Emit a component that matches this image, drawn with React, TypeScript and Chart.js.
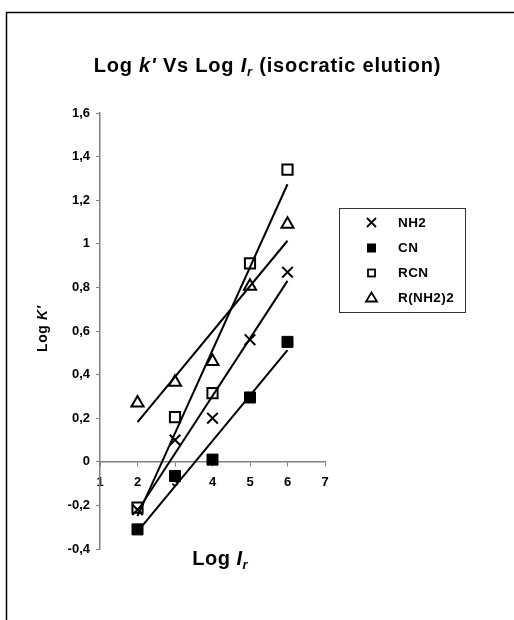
import React, { useEffect, useRef } from "react";
import { Chart, registerables } from "chart.js";

Chart.register(...registerables);

const xValues = [2, 3, 4, 5, 6];
const seriesNames = ["NH2", "CN", "RCN", "R(NH2)2"];
const nh2Values = [-0.22, 0.1, 0.2, 0.56, 0.87];
const cnValues = [-0.31, -0.065, 0.01, 0.295, 0.55];
const rcnValues = [-0.21, 0.205, 0.315, 0.91, 1.34];
const rnh22Values = [0.27, 0.365, 0.46, 0.805, 1.09];
const xAxisMin = 1;
const xAxisMax = 7;
const yAxisMin = -0.4;
const yAxisMax = 1.6;

const FONT = '"Liberation Sans", Arial, Helvetica, sans-serif';

type Pt = { x: number; y: number };

function toPoints(ys: number[]): Pt[] {
  return xValues.map((x, i) => ({ x, y: ys[i] }));
}

// least-squares linear trendline (as in the original spreadsheet chart)
function trend(ys: number[]): Pt[] {
  const n = xValues.length;
  const mx = xValues.reduce((a, b) => a + b, 0) / n;
  const my = ys.reduce((a, b) => a + b, 0) / n;
  let sxy = 0;
  let sxx = 0;
  for (let i = 0; i < n; i++) {
    sxy += (xValues[i] - mx) * (ys[i] - my);
    sxx += (xValues[i] - mx) * (xValues[i] - mx);
  }
  const b = sxy / sxx;
  const a = my - b * mx;
  const x0 = xValues[0];
  const x1 = xValues[n - 1];
  return [
    { x: x0, y: a + b * x0 },
    { x: x1, y: a + b * x1 },
  ];
}

type Run = { t: string; italic?: boolean; sub?: boolean };

function drawRuns(
  ctx: CanvasRenderingContext2D,
  runs: Run[],
  size: number,
  subSize: number,
  subShift: number,
  spacing: number,
  cx: number,
  baseline: number
) {
  const fontFor = (r: Run) =>
    `${r.italic ? "italic " : ""}bold ${r.sub ? subSize : size}px ${FONT}`;
  let total = 0;
  for (const r of runs) {
    ctx.font = fontFor(r);
    for (const ch of r.t) total += ctx.measureText(ch).width + spacing;
  }
  total -= spacing;
  let x = cx - total / 2;
  ctx.textAlign = "left";
  ctx.textBaseline = "alphabetic";
  ctx.fillStyle = "#000";
  for (const r of runs) {
    ctx.font = fontFor(r);
    for (const ch of r.t) {
      ctx.fillText(ch, x, baseline + (r.sub ? subShift : 0));
      x += ctx.measureText(ch).width + spacing;
    }
  }
}

function drawText(
  ctx: CanvasRenderingContext2D,
  text: string,
  size: number,
  spacing: number,
  x: number,
  y: number
) {
  ctx.font = `bold ${size}px ${FONT}`;
  ctx.fillStyle = "#000";
  ctx.textAlign = "left";
  ctx.textBaseline = "middle";
  for (const ch of text) {
    ctx.fillText(ch, x, y);
    x += ctx.measureText(ch).width + spacing;
  }
}

function drawMarker(ctx: CanvasRenderingContext2D, kind: number, x: number, y: number) {
  ctx.save();
  ctx.strokeStyle = "#000";
  ctx.fillStyle = "#000";
  ctx.lineWidth = 1.8;
  if (kind === 0) {
    const h = 4.5;
    ctx.beginPath();
    ctx.moveTo(x - h, y - h);
    ctx.lineTo(x + h, y + h);
    ctx.moveTo(x + h, y - h);
    ctx.lineTo(x - h, y + h);
    ctx.stroke();
  } else if (kind === 1) {
    ctx.fillRect(x - 4.5, y - 4.5, 9, 9);
  } else if (kind === 2) {
    ctx.fillStyle = "#fff";
    ctx.fillRect(x - 3.5, y - 3.5, 7, 7);
    ctx.strokeRect(x - 3.5, y - 3.5, 7, 7);
  } else {
    ctx.beginPath();
    ctx.moveTo(x, y - 5);
    ctx.lineTo(x + 5.5, y + 4);
    ctx.lineTo(x - 5.5, y + 4);
    ctx.closePath();
    ctx.fillStyle = "#fff";
    ctx.fill();
    ctx.stroke();
  }
  ctx.restore();
}

const decorPlugin = {
  id: "decor",
  beforeDraw(chart: any) {
    const ctx: CanvasRenderingContext2D = chart.ctx;
    ctx.save();
    ctx.fillStyle = "#fff";
    ctx.fillRect(0, 0, chart.width, chart.height);
    ctx.strokeStyle = "#000";
    ctx.lineWidth = 1.5;
    ctx.beginPath();
    ctx.moveTo(6.5, chart.height + 2);
    ctx.lineTo(6.5, 12.5);
    ctx.lineTo(chart.width + 2, 12.5);
    ctx.stroke();
    ctx.restore();
  },
  afterDraw(chart: any) {
    const ctx: CanvasRenderingContext2D = chart.ctx;
    ctx.save();
    // main title
    drawRuns(
      ctx,
      [
        { t: "Log " },
        { t: "k'", italic: true },
        { t: " Vs Log " },
        { t: "I", italic: true },
        { t: "r", italic: true, sub: true },
        { t: " (isocratic elution)" },
      ],
      20,
      13,
      4,
      0.8,
      267,
      72
    );
    // x axis title
    drawRuns(
      ctx,
      [{ t: "Log " }, { t: "I", italic: true }, { t: "r", italic: true, sub: true }],
      20,
      13,
      4,
      0.5,
      220,
      565
    );
    // y axis title
    ctx.save();
    ctx.translate(47, 329);
    ctx.rotate(-Math.PI / 2);
    drawRuns(ctx, [{ t: "Log " }, { t: "K'", italic: true }], 14, 14, 0, 0.6, 0, 0);
    ctx.restore();

    // legend
    ctx.strokeStyle = "#333";
    ctx.lineWidth = 1;
    ctx.strokeRect(339.5, 208.5, 126, 104);
    const rows = [222.5, 248, 273, 297.5];
    const names = chart.data.datasets.filter((d: any) => d.isSeries).map((d: any) => d.label);
    names.forEach((name: string, i: number) => {
      drawMarker(ctx, i, 371.5, rows[i]);
      drawText(ctx, name, 13.5, 0.4, 398, rows[i] + 0.5);
    });
    ctx.restore();
  },
};

export default function App() {
  const ref = useRef<HTMLCanvasElement | null>(null);

  useEffect(() => {
    if (!ref.current) return;
    const allSeries = [nh2Values, cnValues, rcnValues, rnh22Values];
    const styles = [
      { pointStyle: "crossRot", radius: 7.5, bg: "#000", bw: 2 },
      { pointStyle: "rect", radius: 7.8, bg: "#000", bw: 1 },
      { pointStyle: "rect", radius: 7.2, bg: "#fff", bw: 2 },
      { pointStyle: "triangle", radius: 7, bg: "#fff", bw: 2 },
    ];
    const trendSets = allSeries.map((ys, i) => ({
      type: "line" as const,
      label: seriesNames[i] + " trend",
      data: trend(ys),
      borderColor: "#000",
      borderWidth: 2,
      pointRadius: 0,
      showLine: true,
      fill: false,
      isSeries: false,
    }));
    const pointSets = allSeries.map((ys, i) => ({
      type: "scatter" as const,
      label: seriesNames[i],
      data: toPoints(ys),
      pointStyle: styles[i].pointStyle,
      pointRadius: styles[i].radius,
      pointHoverRadius: styles[i].radius,
      pointBackgroundColor: styles[i].bg,
      pointBorderColor: "#000",
      pointBorderWidth: styles[i].bw,
      showLine: false,
      isSeries: true,
    }));

    const chart = new Chart(ref.current, {
      type: "scatter",
      data: { datasets: [...trendSets, ...pointSets] as any },
      options: {
        responsive: false,
        animation: false,
        events: [],
        layout: { padding: { left: 60, top: 113, right: 189, bottom: 71 } },
        plugins: {
          legend: { display: false },
          title: { display: false },
          tooltip: { enabled: false },
        },
        scales: {
          x: {
            type: "linear",
            min: xAxisMin,
            max: xAxisMax,
            position: { y: 0 } as any,
            ticks: {
              stepSize: 1,
              color: "#000",
              font: { family: FONT, size: 13, weight: "bold" },
              padding: 9,
              maxRotation: 0,
            },
            grid: {
              display: true,
              drawOnChartArea: false,
              drawTicks: true,
              tickLength: 4,
              color: "#808080",
            },
            border: { display: true, color: "#808080", width: 1.5 },
          },
          y: {
            type: "linear",
            min: yAxisMin,
            max: yAxisMax,
            ticks: {
              stepSize: 0.2,
              color: "#000",
              font: { family: FONT, size: 13, weight: "bold" },
              padding: 6,
              callback: (v: any) => String(Number(Number(v).toFixed(1))).replace(".", ","),
            },
            grid: {
              display: true,
              drawOnChartArea: false,
              drawTicks: true,
              tickLength: 4,
              color: "#808080",
            },
            border: { display: true, color: "#808080", width: 1.5 },
            afterFit: (s: any) => {
              s.width = 40;
            },
          },
        },
      } as any,
      plugins: [decorPlugin],
    });
    return () => chart.destroy();
  }, []);

  return (
    <div style={{ position: "fixed", left: 0, top: 0, width: 514, height: 620, overflow: "hidden" }}>
      <canvas ref={ref} width={514} height={620} style={{ display: "block" }} />
    </div>
  );
}
